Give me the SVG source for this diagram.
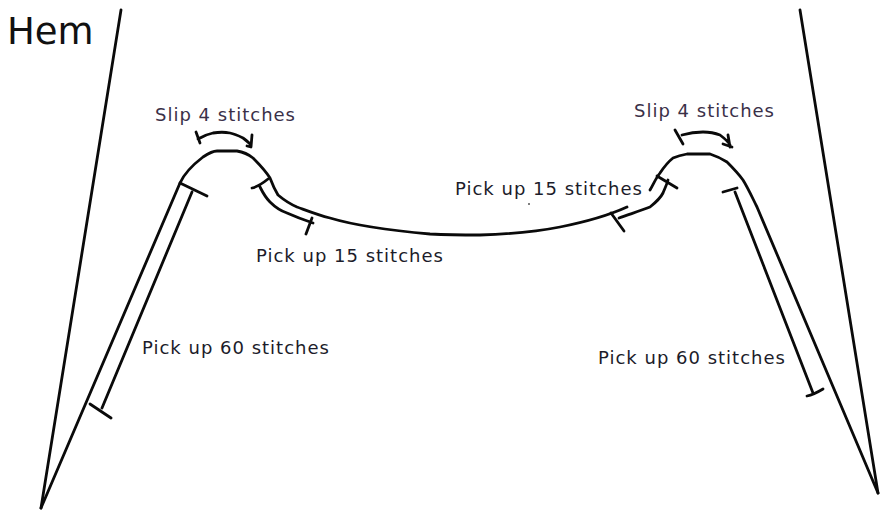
<svg xmlns="http://www.w3.org/2000/svg" width="894" height="510" viewBox="0 0 894 510">
<style>
.l{fill:none;stroke:#0a0a0a;stroke-width:2.8;stroke-linecap:round;stroke-linejoin:round}
.t{font-family:"DejaVu Sans",sans-serif;font-size:18px;letter-spacing:1px;fill:#1c1c2a}
.s{fill:#3a3048}
</style>
<rect width="894" height="510" fill="#fff"/>
<g id="lines">
<path class="l" d="M121 10L41 508"/>
<path class="l" d="M41 508L180 183C184 174 190 167 203 157C209 153 213 151 217 151H237C243 152 248 154 253 158C259 164 265 170 270 178C273 186 275 190 278 195C284 200 290 204 297 207C308 211 318 215 330 218C350 224 385 230 430 234C450 235 465 235 480 235C510 234 535 232 560 227C580 223 605 217 627 207"/>
<path class="l" d="M650 190C654 183 656 178 660 173C664 167 668 162 673 158C678 156 682 155 687 154H710C716 156 721 158 727 162C733 168 738 173 743 180C748 188 752 197 757 207L878 493"/>
<path class="l" d="M800 10L878 493"/>
</g>
<g id="brackets">
<path class="l" d="M180 183L207 196M192 192L102 408M90 404L111 418"/>
<path class="l" d="M252 188C257 187 263 183 268 179M260 187C263 193 266 198 270 202C275 207 281 211 287 213C296 217 304 220 313 223M312 218L306 234"/>
<path class="l" d="M196 132L200 143M198 139C203 136 208 134 213 133C219 132 225 132 230 133C235 134 239 136 243 138C246 140 249 143 251 145M252 135L251 147L247 146"/>
<path class="l" d="M675 130L683 144M682 135C689 133 696 132 703 132C709 132 715 133 720 135C724 138 728 141 730 145M728 135L730 147M723 144L732 147"/>
<path class="l" d="M611 213L624 231M619 218C630 214 640 211 650 207C655 203 660 199 663 193C665 188 667 184 668 180M657 176L677 188"/>
<path class="l" d="M723 192L737 188M735 192L813 393M807 396C812 395 818 392 823 389"/>
</g>
<g id="labels">
<text class="t" x="7" y="44" style="font-size:37px;letter-spacing:0;fill:#111">Hem</text>
<text class="t s" x="155" y="121">Slip 4 stitches</text>
<text class="t s" x="634" y="117">Slip 4 stitches</text>
<text class="t" x="256" y="262">Pick up 15 stitches</text>
<text class="t" x="455" y="195">Pick up 15 stitches</text>
<text class="t" x="142" y="354">Pick up 60 stitches</text>
<text class="t" x="598" y="364">Pick up 60 stitches</text>
</g>
<circle cx="529" cy="204" r="1" fill="#555"/>
</svg>
